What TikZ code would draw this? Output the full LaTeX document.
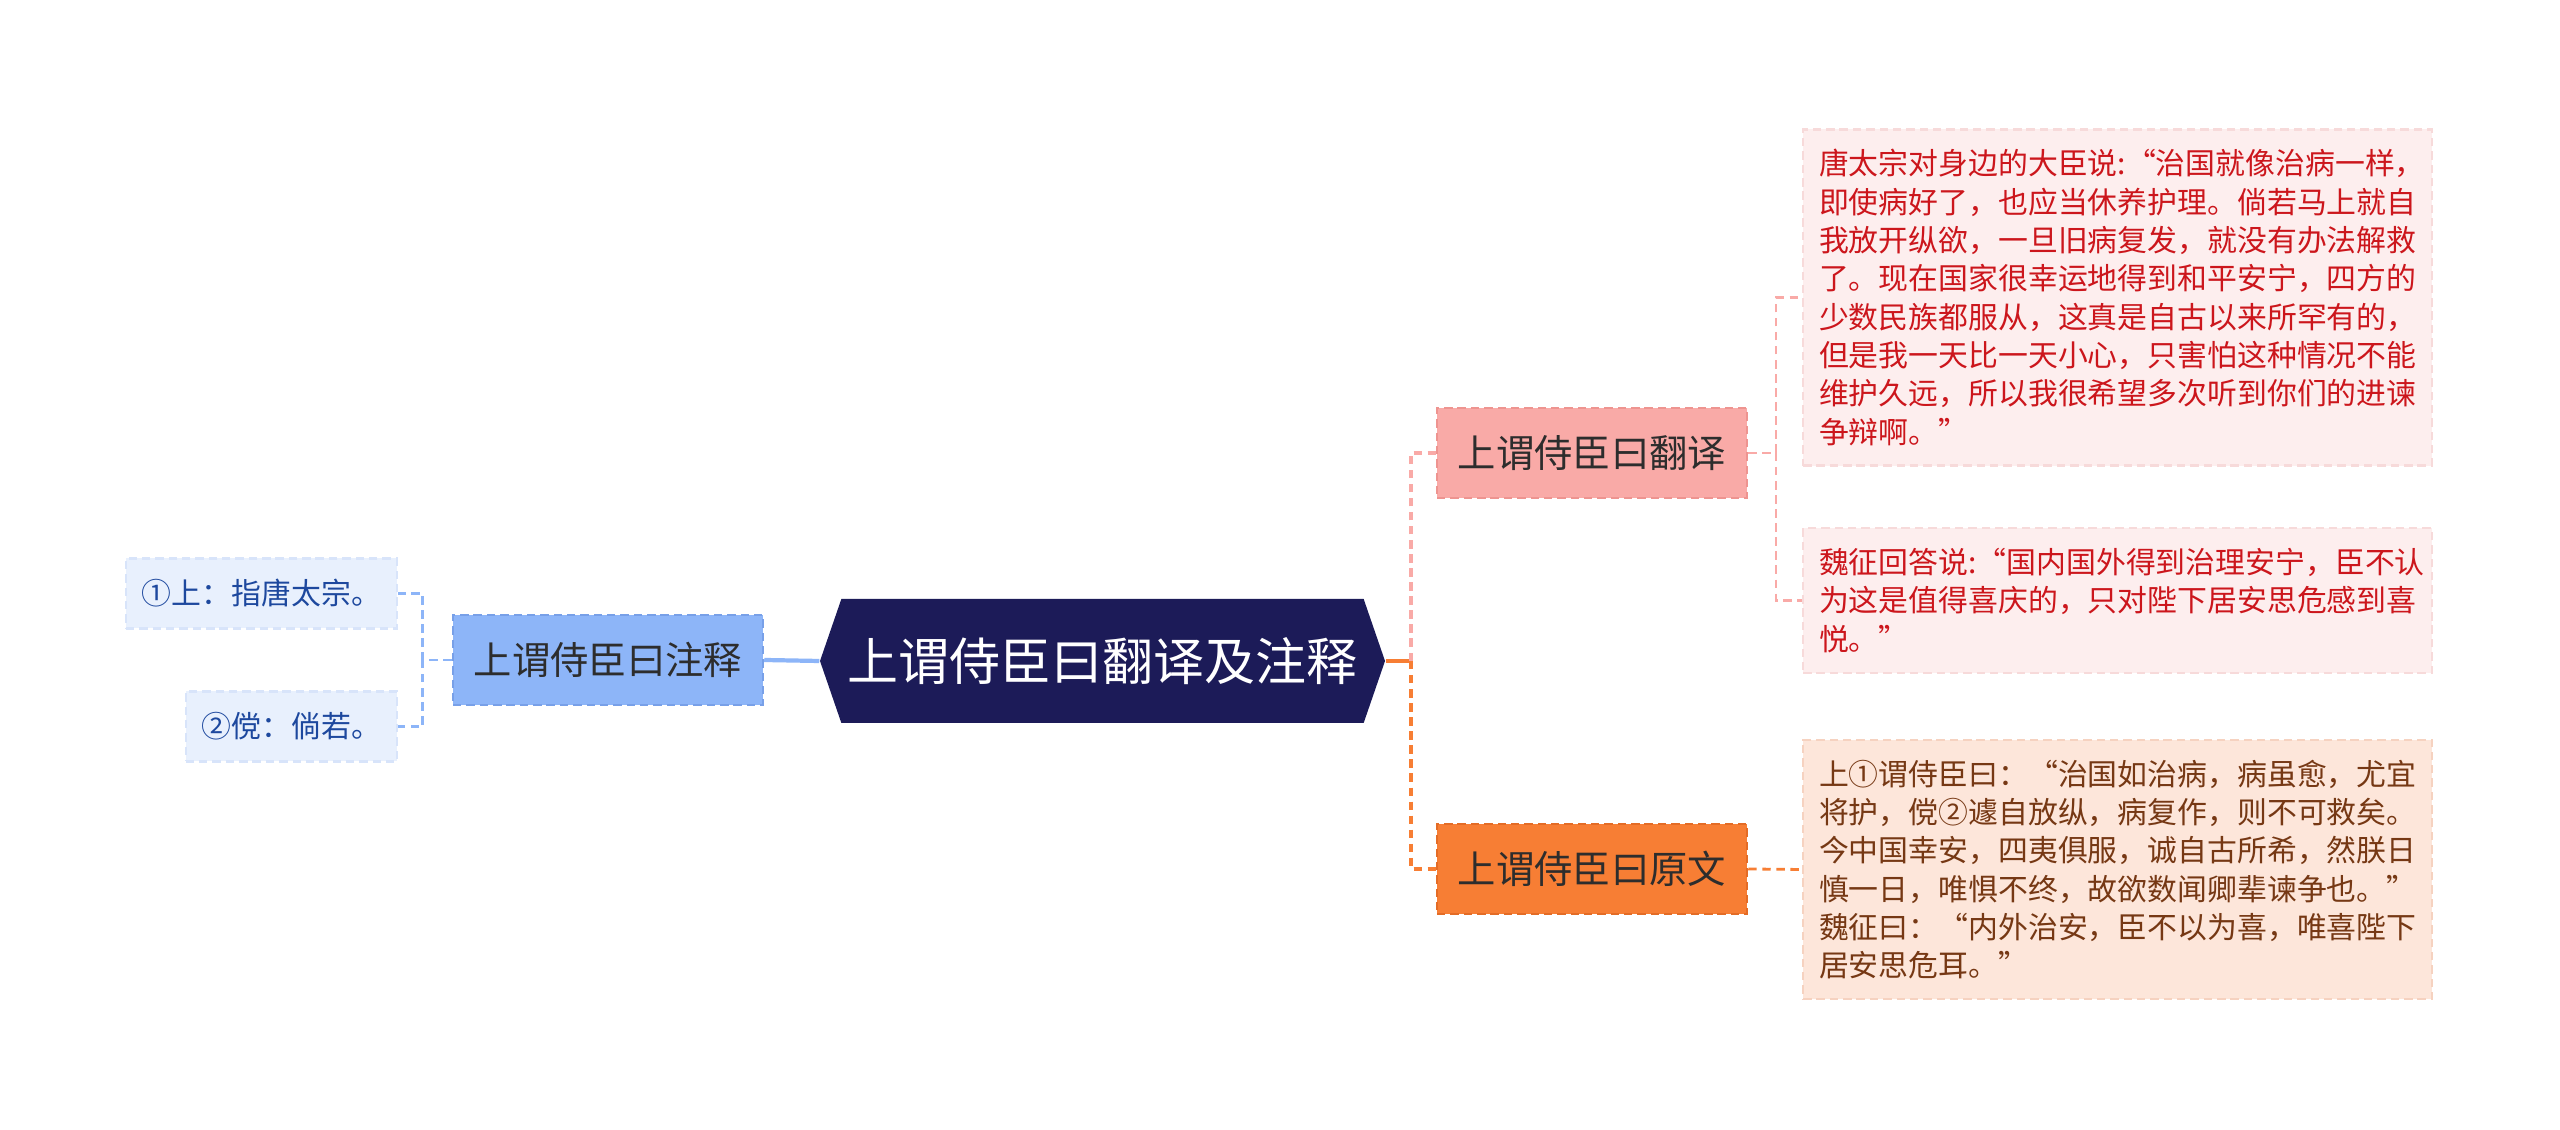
\documentclass[tikz,border=0pt]{standalone}
\usepackage{fontspec}
\setmainfont{Noto Sans CJK SC}
\usetikzlibrary{shapes.symbols}

\definecolor{rootnavy}{RGB}{28,27,88}
\definecolor{notefill}{RGB}{141,181,248}
\definecolor{noteline}{RGB}{120,160,232}
\definecolor{nleaffill}{RGB}{232,240,253}
\definecolor{nleafline}{RGB}{216,228,250}
\definecolor{nleaftext}{RGB}{29,72,158}
\definecolor{transfill}{RGB}{249,170,167}
\definecolor{transline}{RGB}{238,148,144}
\definecolor{origfill}{RGB}{247,126,52}
\definecolor{origline}{RGB}{228,108,38}
\definecolor{redfill}{RGB}{253,238,238}
\definecolor{redline}{RGB}{247,218,218}
\definecolor{redtext}{RGB}{204,22,28}
\definecolor{peachfill}{RGB}{253,230,218}
\definecolor{peachline}{RGB}{246,210,192}
\definecolor{peachtext}{RGB}{118,56,20}
\definecolor{boxtext}{RGB}{45,45,45}

\begin{document}
\begin{tikzpicture}[
	rootbox/.style={shape=signal, signal to=east and west, signal pointer angle=142, fill=rootnavy, text=white, inner sep=0pt, minimum width=5.65cm, minimum height=1.24cm, font=\fontsize{14.5pt}{17pt}\selectfont},
	midbox/.style={rectangle, inner sep=0pt, minimum width=3.1cm, minimum height=0.9cm, text=boxtext, line width=0.7pt, dash pattern=on 2.4pt off 1.4pt, font=\fontsize{10.9pt}{13pt}\selectfont},
	notebox/.style={midbox, fill=notefill, draw=noteline},
	transbox/.style={midbox, fill=transfill, draw=transline},
	origbox/.style={midbox, fill=origfill, draw=origline},
	leaf/.style={rectangle, inner xsep=0.16cm, line width=0.6pt, dash pattern=on 2.4pt off 1.4pt, font=\fontsize{8.5pt}{10.9pt}\selectfont},
	noteleaf/.style={leaf, fill=nleaffill, draw=nleafline, text=nleaftext, minimum height=0.7cm, anchor=east},
	redleaf/.style={leaf, fill=redfill, draw=redline, text=redtext, text width=5.97cm, align=left, inner ysep=0.2cm, anchor=west},
	peachleaf/.style={leaf, fill=peachfill, draw=peachline, text=peachtext, text width=5.97cm, align=left, inner ysep=0.2cm, anchor=west},
	bluelink/.style={draw=notefill, line width=1.2pt},
	bluedash/.style={draw=notefill, line width=0.8pt, dash pattern=on 2.4pt off 1.6pt},
	orangelink/.style={draw=origfill, line width=1.2pt},
	orangedash/.style={draw=origfill, line width=1.2pt, dash pattern=on 2.4pt off 1.6pt},
	pinkdash/.style={draw=transfill, line width=1.2pt, dash pattern=on 2.4pt off 1.6pt},
	pinkthin/.style={draw=transfill, line width=0.7pt, dash pattern=on 2.4pt off 1.6pt},
	orangethin/.style={draw=origfill, line width=0.8pt, dash pattern=on 2.4pt off 1.6pt}
]
	\path[use as bounding box, fill=white] (0,0) rectangle (25.6,-11.3);

	% centre
	\node[rootbox] (root) at (11.025,-6.61) {上谓侍臣曰翻译及注释};

	% left side
	\node[notebox] (note) at (6.08,-6.60) {上谓侍臣曰注释};
	\node[noteleaf] (n1) at (3.98,-5.935) {①上：指唐太宗。};
	\node[noteleaf] (n2) at (3.98,-7.265) {②傥：倘若。};

	% right side
	\node[transbox] (trans) at (15.92,-4.53) {上谓侍臣曰翻译};
	\node[origbox] (orig) at (15.92,-8.69) {上谓侍臣曰原文};
	\node[redleaf] (t1) at (18.02,-2.975) {唐太宗对身边的大臣说:“治国就像治病一样，\\即使病好了，也应当休养护理。倘若马上就自\\我放开纵欲，一旦旧病复发，就没有办法解救\\了。现在国家很幸运地得到和平安宁，四方的\\少数民族都服从，这真是自古以来所罕有的，\\但是我一天比一天小心，只害怕这种情况不能\\维护久远，所以我很希望多次听到你们的进谏\\争辩啊。”};
	\node[redleaf] (t2) at (18.02,-6.005) {魏征回答说:“国内国外得到治理安宁，臣不认\\为这是值得喜庆的，只对陛下居安思危感到喜\\悦。”};
	\node[peachleaf] (o1) at (18.02,-8.695) {上①谓侍臣曰：“治国如治病，病虽愈，尤宜\\将护，傥②遽自放纵，病复作，则不可救矣。\\今中国幸安，四夷俱服，诚自古所希，然朕日\\慎一日，唯惧不终，故欲数闻卿辈谏争也。”\\魏征曰：“内外治安，臣不以为喜，唯喜陛下\\居安思危耳。”};

	% links
	\draw[bluelink] (root.west) -- (note.east);
	\draw[bluedash] (note.west) -- ++(-0.29,0) coordinate (lj) |- (n1.east);
	\draw[bluedash] (lj) |- (n2.east);
	\draw[orangelink] (root.east) -- ++(0.25,0) coordinate (rj);
	\draw[pinkdash] (rj) |- (trans.west);
	\draw[orangedash] (rj) |- (orig.west);
	\draw[pinkthin] (trans.east) -- ++(0.28,0) coordinate (tj) |- (t1.west);
	\draw[pinkthin] (tj) |- (t2.west);
	\draw[orangethin] (orig.east) -- (o1.west);
\end{tikzpicture}
\end{document}
